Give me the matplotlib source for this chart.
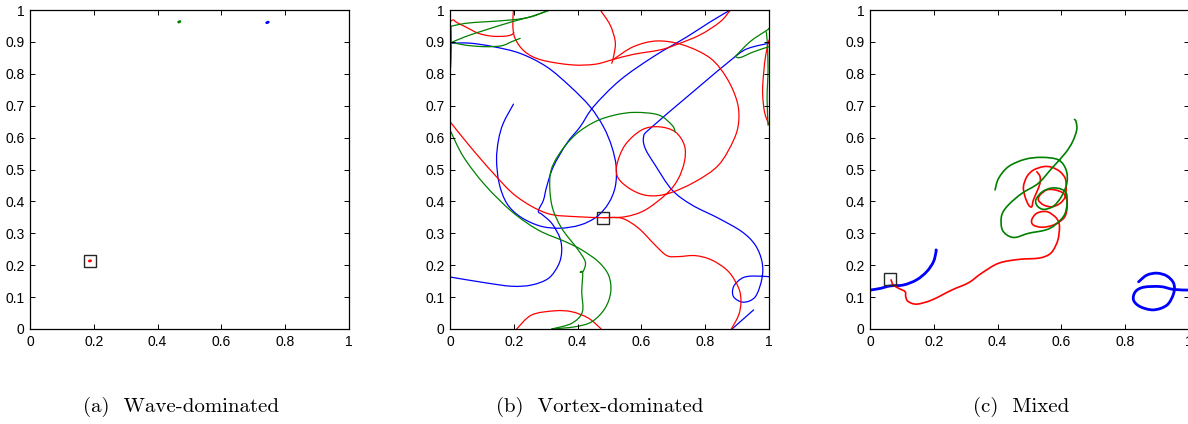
import matplotlib
matplotlib.use("Agg")
import matplotlib.pyplot as plt
from matplotlib.path import Path
from matplotlib.patches import PathPatch
from matplotlib.ticker import FuncFormatter

# colours (old MATLAB defaults)
BLUE = (0, 0, 1)
RED = (1, 0, 0)
GREEN = (0, 0.5, 0)

captions = ["(a)  Wave-dominated", "(b)  Vortex-dominated", "(c)  Mixed"]
x_ticks = [0, 0.2, 0.4, 0.6, 0.8, 1]
y_ticks = [0, 0.1, 0.2, 0.3, 0.4, 0.5, 0.6, 0.7, 0.8, 0.9, 1]

# ---- (a) wave-dominated: particles barely move
a_square = (0.188, 0.214)
a_red = ([0.186, 0.190], [0.213, 0.214])
a_green = ([0.466, 0.470], [0.962, 0.964])
a_blue = ([0.742, 0.747], [0.960, 0.962])

# ---- (b) vortex-dominated
b_square = (0.481, 0.348)
b_blue_1 = ([0.0, 0.063, 0.136, 0.220, 0.303, 0.377, 0.439, 0.481, 0.507, 0.521, 0.518, 0.497,
             0.460, 0.408, 0.345, 0.282, 0.220, 0.178, 0.154, 0.146, 0.152, 0.167, 0.199],
            [0.896, 0.896, 0.885, 0.864, 0.822, 0.760, 0.697, 0.634, 0.572, 0.509, 0.446, 0.394,
             0.352, 0.326, 0.316, 0.323, 0.352, 0.394, 0.457, 0.530, 0.592, 0.645, 0.705])
b_blue_2 = ([0.0, 0.110, 0.194, 0.256, 0.309, 0.340, 0.350, 0.345, 0.320, 0.290, 0.277, 0.293,
             0.303, 0.324, 0.366, 0.408, 0.450, 0.533, 0.638, 0.743, 0.816, 0.879],
            [0.163, 0.145, 0.134, 0.138, 0.159, 0.201, 0.242, 0.284, 0.330, 0.358, 0.370, 0.404,
             0.446, 0.509, 0.582, 0.634, 0.697, 0.780, 0.854, 0.916, 0.963, 1.0])
b_blue_3 = ([0.884, 0.952], [0.0, 0.060])
b_blue_4 = ([1.0, 0.936, 0.894, 0.760, 0.628, 0.607, 0.612, 0.643, 0.696, 0.758, 0.842, 0.915,
             0.957, 0.978, 0.978, 0.957, 0.920, 0.889, 0.889, 0.915, 0.947, 1.0],
            [0.896, 0.880, 0.854, 0.742, 0.629, 0.603, 0.566, 0.514, 0.436, 0.389, 0.347, 0.305,
             0.263, 0.211, 0.159, 0.101, 0.084, 0.101, 0.133, 0.159, 0.166, 0.164])

b_red_1 = ([0.0, 0.063, 0.136, 0.209, 0.303, 0.397, 0.481],
           [0.650, 0.572, 0.488, 0.415, 0.363, 0.352, 0.349])
b_red_2 = ([0.481, 0.549, 0.612, 0.680, 0.715, 0.735, 0.735, 0.706, 0.654, 0.601, 0.549, 0.523,
            0.528, 0.570, 0.622, 0.685, 0.769, 0.842, 0.889, 0.905, 0.900, 0.868, 0.816, 0.732,
            0.649, 0.575, 0.512],
           [0.349, 0.352, 0.373, 0.425, 0.470, 0.525, 0.575, 0.618, 0.634, 0.624, 0.577, 0.514,
            0.472, 0.436, 0.418, 0.425, 0.462, 0.514, 0.592, 0.650, 0.713, 0.786, 0.849, 0.890,
            0.903, 0.885, 0.845])
b_red_3 = ([0.481, 0.539, 0.591, 0.643, 0.680, 0.716, 0.769, 0.821, 0.873, 0.905, 0.912, 0.905, 0.882],
           [0.349, 0.347, 0.316, 0.263, 0.230, 0.227, 0.230, 0.216, 0.180, 0.128, 0.086, 0.044, 0.0])
b_red_4 = ([0.879, 0.847, 0.784, 0.711, 0.659, 0.575, 0.512, 0.455, 0.382, 0.288, 0.235, 0.204,
            0.197, 0.199],
           [1.0, 0.963, 0.922, 0.892, 0.875, 0.861, 0.845, 0.830, 0.828, 0.843, 0.869, 0.911,
            0.953, 1.0])
b_red_5 = ([0.209, 0.256, 0.329, 0.382, 0.434, 0.474],
           [0.0, 0.044, 0.057, 0.054, 0.034, 0.0])
b_red_6 = ([0.471, 0.502, 0.518, 0.514, 0.507], [1.0, 0.953, 0.901, 0.860, 0.833])
b_red_7 = ([1.0, 0.990, 0.983, 0.980, 0.986, 1.0], [0.906, 0.860, 0.800, 0.740, 0.680, 0.640])
b_red_8 = ([0.0, 0.010, 0.021, 0.047, 0.089, 0.131, 0.173, 0.194, 0.200],
           [0.963, 0.969, 0.961, 0.948, 0.927, 0.918, 0.918, 0.923, 0.930])

b_green_1 = ([0.0, 0.042, 0.110, 0.194, 0.277, 0.361, 0.413, 0.465, 0.497, 0.504, 0.486, 0.445,
              0.392, 0.319],
             [0.624, 0.540, 0.451, 0.368, 0.310, 0.274, 0.248, 0.211, 0.169, 0.117, 0.065, 0.023,
              0.007, 0.0])
b_green_2 = ([0.319, 0.382, 0.415, 0.413, 0.416, 0.408, 0.418, 0.424, 0.398, 0.350, 0.319, 0.314,
              0.340, 0.392, 0.455, 0.518, 0.580, 0.654, 0.696, 0.706],
             [0.0, 0.018, 0.054, 0.117, 0.176, 0.178, 0.182, 0.211, 0.253, 0.316, 0.389, 0.483,
              0.545, 0.608, 0.650, 0.671, 0.679, 0.671, 0.639, 0.618])
b_green_3 = ([0.0, 0.047, 0.110, 0.194, 0.256, 0.309], [0.948, 0.958, 0.963, 0.969, 0.979, 1.0])
b_green_4 = ([0.0, 0.047, 0.110, 0.194, 0.256, 0.314], [0.896, 0.916, 0.937, 0.963, 0.980, 1.0])
b_green_5 = ([0.0, 0.047, 0.110, 0.162, 0.194, 0.220], [0.900, 0.890, 0.885, 0.888, 0.901, 0.911])
b_green_6 = ([0.003, 0.004, 0.002], [0.950, 0.880, 0.820])
b_green_7 = ([0.894, 0.941, 0.994, 1.0], [0.854, 0.901, 0.937, 0.942])
b_green_8 = ([0.894, 0.910, 0.952, 1.0], [0.854, 0.851, 0.869, 0.885])
b_green_9 = ([0.991, 0.994, 0.997, 0.994, 0.997], [0.932, 0.906, 0.817, 0.723, 0.639])

# ---- (c) mixed
c_square = (0.063, 0.156)
c_blue_1 = ([0.0, 0.031, 0.063, 0.105, 0.146, 0.178, 0.199, 0.207, 0.207],
            [0.122, 0.127, 0.135, 0.138, 0.154, 0.180, 0.211, 0.242, 0.248])
c_blue_2 = ([1.0, 0.952, 0.910, 0.858, 0.832, 0.826, 0.847, 0.889, 0.931, 0.952, 0.952, 0.931,
             0.900, 0.868, 0.842],
            [0.122, 0.124, 0.133, 0.131, 0.117, 0.091, 0.070, 0.060, 0.075, 0.112, 0.143, 0.166,
             0.175, 0.169, 0.148])
c_red = ([0.066, 0.073, 0.089, 0.110, 0.112, 0.120, 0.147, 0.194, 0.256, 0.309, 0.350, 0.403,
          0.465, 0.528, 0.559, 0.575, 0.589, 0.594, 0.591, 0.580, 0.554, 0.523, 0.507, 0.512,
          0.539, 0.575, 0.607, 0.617, 0.617, 0.607, 0.580, 0.554, 0.533, 0.528, 0.544, 0.570,
          0.596, 0.612, 0.615, 0.612, 0.596, 0.570, 0.544, 0.512, 0.492, 0.481, 0.486, 0.497,
          0.507, 0.512, 0.523, 0.533, 0.533, 0.523],
         [0.154, 0.138, 0.128, 0.117, 0.101, 0.086, 0.078, 0.091, 0.122, 0.145, 0.175, 0.206,
          0.218, 0.222, 0.232, 0.248, 0.279, 0.316, 0.336, 0.352, 0.368, 0.363, 0.342, 0.326,
          0.319, 0.326, 0.347, 0.373, 0.404, 0.425, 0.436, 0.436, 0.420, 0.404, 0.389, 0.383,
          0.394, 0.415, 0.446, 0.472, 0.493, 0.507, 0.509, 0.498, 0.478, 0.446, 0.415, 0.389,
          0.383, 0.404, 0.430, 0.457, 0.478, 0.493])
c_green = ([0.392, 0.403, 0.434, 0.486, 0.539, 0.591, 0.615, 0.617, 0.600, 0.575, 0.545, 0.525,
            0.520, 0.540, 0.570, 0.600, 0.617, 0.612, 0.580, 0.549, 0.497, 0.455, 0.429, 0.413,
            0.413, 0.434, 0.476, 0.528, 0.570, 0.612, 0.635, 0.648, 0.646, 0.641],
           [0.436, 0.472, 0.509, 0.532, 0.538, 0.530, 0.498, 0.457, 0.415, 0.385, 0.375, 0.385,
            0.405, 0.430, 0.442, 0.438, 0.420, 0.363, 0.326, 0.310, 0.300, 0.287, 0.295, 0.316,
            0.357, 0.389, 0.425, 0.457, 0.504, 0.551, 0.587, 0.624, 0.650, 0.657])

panels = [
    (a_square, [(a_red, RED, 2.0), (a_green, GREEN, 2.0), (a_blue, BLUE, 2.0)]),
    (b_square, [(b_blue_1, BLUE, 0.9), (b_blue_2, BLUE, 0.9), (b_blue_3, BLUE, 0.9),
                (b_blue_4, BLUE, 0.9),
                (b_red_1, RED, 0.9), (b_red_2, RED, 0.9), (b_red_3, RED, 0.9), (b_red_4, RED, 0.9),
                (b_red_5, RED, 0.9), (b_red_6, RED, 0.9), (b_red_7, RED, 0.9), (b_red_8, RED, 0.9),
                (b_green_1, GREEN, 0.9), (b_green_2, GREEN, 0.9), (b_green_3, GREEN, 0.9),
                (b_green_4, GREEN, 0.9), (b_green_5, GREEN, 0.9), (b_green_6, GREEN, 0.9),
                (b_green_7, GREEN, 0.9), (b_green_8, GREEN, 0.9), (b_green_9, GREEN, 0.9)]),
    (c_square, [(c_blue_1, BLUE, 2.0), (c_blue_2, BLUE, 2.0), (c_red, RED, 1.2),
                (c_green, GREEN, 1.2)]),
]


def smooth_path(xs, ys):
    # Catmull-Rom through the read points, drawn as cubic Bezier pieces
    pts = list(zip(xs, ys))
    if len(pts) < 3:
        return Path(pts)
    verts = [pts[0]]
    codes = [Path.MOVETO]
    n = len(pts)
    for i in range(n - 1):
        p0 = pts[max(i - 1, 0)]
        p1 = pts[i]
        p2 = pts[i + 1]
        p3 = pts[min(i + 2, n - 1)]
        c1 = (p1[0] + (p2[0] - p0[0]) / 6, p1[1] + (p2[1] - p0[1]) / 6)
        c2 = (p2[0] - (p3[0] - p1[0]) / 6, p2[1] - (p3[1] - p1[1]) / 6)
        verts += [c1, c2, p2]
        codes += [Path.CURVE4] * 3
    return Path(verts, codes)


fig = plt.figure(figsize=(11.88, 4.24), dpi=100)
lefts = [30 / 1188, 450 / 1188, 870 / 1188]
centers = [181 / 1188, 600 / 1188, 1021 / 1188]

for i, (square, lines) in enumerate(panels):
    ax = fig.add_axes([lefts[i], 95 / 424, 319 / 1188, 319 / 424])
    for (xs, ys), col, lw in lines:
        ax.add_patch(PathPatch(smooth_path(xs, ys), fill=False, edgecolor=col, lw=lw,
                               capstyle="round", joinstyle="round"))
    ax.plot([square[0]], [square[1]], marker="s", ms=8.4, mfc="none", mec="0.15", mew=1.0)
    ax.set_xlim(0, 1)
    ax.set_ylim(0, 1)
    ax.set_xticks(x_ticks)
    ax.set_yticks(y_ticks)
    ax.xaxis.set_major_formatter(FuncFormatter(lambda v, p: f"{v:g}"))
    ax.yaxis.set_major_formatter(FuncFormatter(lambda v, p: f"{v:g}"))
    ax.tick_params(direction="in", top=True, right=True, length=3.5, width=0.7,
                   labelsize=10, pad=4)
    for lab in ax.get_xticklabels() + ax.get_yticklabels():
        lab.set_family("Liberation Sans")
    for s in ax.spines.values():
        s.set_linewidth(0.9)
    fig.text(centers[i], 0.04, captions[i], ha="center", va="center",
             family="cmr10", fontsize=15)

fig.savefig("out.png", dpi=100)
